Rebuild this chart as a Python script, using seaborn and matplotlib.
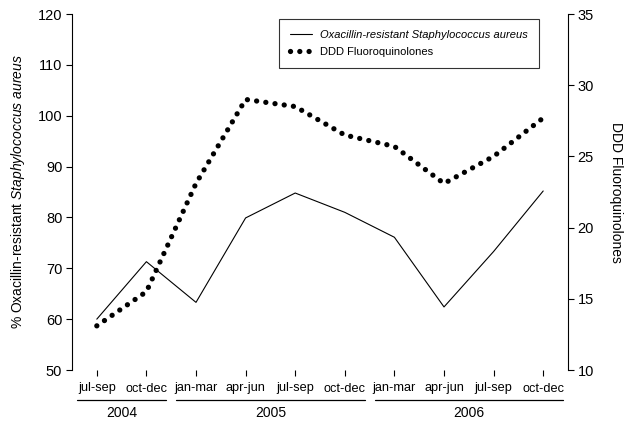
import matplotlib
matplotlib.use("Agg")
import matplotlib.pyplot as plt
import matplotlib.transforms as mtransforms
import seaborn as sns
import pandas as pd
import numpy as np

quarters = ["jul-sep", "oct-dec", "jan-mar", "apr-jun", "jul-sep", "oct-dec",
            "jan-mar", "apr-jun", "jul-sep", "oct-dec"]
years = [2004, 2004, 2005, 2005, 2005, 2005, 2006, 2006, 2006, 2006]
ors_pct = [60.0, 71.3, 63.3, 79.9, 84.8, 81.0, 76.1, 62.4, 73.3, 85.2]
ddd_fq = [13.1, 15.5, 23.1, 29.0, 28.5, 26.5, 25.7, 23.1, 25.0, 27.7]

sns.set_theme(style="ticks")
plt.rcParams["font.family"] = ["Liberation Sans", "DejaVu Sans"]
plt.rcParams["mathtext.fontset"] = "custom"
plt.rcParams["mathtext.rm"] = "Liberation Sans"
plt.rcParams["mathtext.it"] = "Liberation Sans:italic"
plt.rcParams["text.color"] = "black"
plt.rcParams["axes.labelcolor"] = "black"
plt.rcParams["xtick.color"] = "black"
plt.rcParams["ytick.color"] = "black"

df = pd.DataFrame({"idx": np.arange(len(quarters)), "ors": ors_pct, "ddd": ddd_fq})

fig = plt.figure(figsize=(6.29, 4.24), dpi=100)
ax = fig.add_axes([72 / 629, 54 / 424, (568 - 72) / 629, 356 / 424])
ax2 = ax.twinx()

sns.lineplot(data=df, x="idx", y="ors", ax=ax, color="black", linewidth=0.8,
             label="Oxacillin-resistant Staphylococcus aureus", legend=False)
sns.lineplot(data=df, x="idx", y="ddd", ax=ax2, color="black", linewidth=3.8,
             label="DDD Fluoroquinolones", legend=False)
dline = ax2.get_lines()[0]
dline.set_linestyle((0, (0.01, 1.75)))
dline.set_dash_capstyle("round")

ax.set_xlim(-0.5, 9.5)
ax.set_ylim(50, 120)
ax2.set_ylim(10, 35)
ax.set_yticks(np.arange(50, 121, 10))
ax2.set_yticks(np.arange(10, 36, 5))
ax.set_xticks(df["idx"])
ax.set_xticklabels(quarters)

for a in (ax, ax2):
    a.spines["top"].set_visible(False)
    a.spines["bottom"].set_visible(False)
    a.tick_params(colors="black", width=0.8, length=4, direction="out")
    a.tick_params(axis="y", labelsize=10.5, pad=3)
    a.set_xlabel("")
ax.tick_params(axis="x", labelsize=9.2, pad=5)
ax.spines["right"].set_visible(False)
ax2.spines["left"].set_visible(False)
ax.spines["left"].set_color("black")
ax2.spines["right"].set_color("black")
ax.spines["left"].set_linewidth(0.8)
ax2.spines["right"].set_linewidth(0.8)

ax.set_ylabel(r"% Oxacillin-resistant $\it{Staphylococcus\ aureus}$", fontsize=10,
              labelpad=7.5, color="black")
ax2.set_ylabel("DDD Fluoroquinolones", fontsize=10, rotation=270, labelpad=21,
               color="black")

# year grouping
trans = mtransforms.blended_transform_factory(ax.transData, ax.transAxes)
for yr in sorted(set(years)):
    ids = [i for i, y in enumerate(years) if y == yr]
    x0, x1 = min(ids) - 0.4, max(ids) + 0.4
    ax.plot([x0, x1], [-0.084, -0.084], transform=trans, color="black",
            linewidth=0.9, clip_on=False)
    ax.text((x0 + x1) / 2, -0.12, str(yr), transform=trans, ha="center",
            va="center", fontsize=10, color="black")

handles = [ax.get_lines()[0], dline]
leg = fig.legend(handles, ["Oxacillin-resistant Staphylococcus aureus", "DDD Fluoroquinolones"],
                 loc="upper right", bbox_to_anchor=(539 / 629, 1 - 19 / 424),
                 fontsize=8, frameon=True, fancybox=False, borderaxespad=0,
                 handlelength=2.0, handletextpad=0.7, borderpad=1.0, labelspacing=0.58)
leg.get_frame().set_edgecolor("black")
leg.get_frame().set_linewidth(0.8)
for t in leg.get_texts():
    t.set_color("black")
leg.get_texts()[0].set_fontstyle("italic")

fig.savefig("out.png", dpi=100)
